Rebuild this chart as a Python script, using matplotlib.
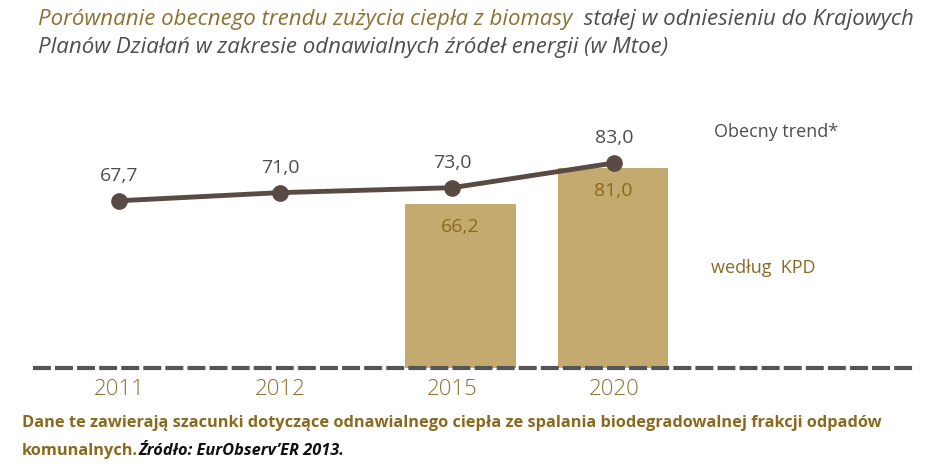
import matplotlib
matplotlib.use("Agg")
import matplotlib.pyplot as plt

# dane
lata = ["2011", "2012", "2015", "2020"]
trend = [67.7, 71.0, 73.0, 83.0]          # Obecny trend*
kpd_lata = ["2015", "2020"]
kpd = [66.2, 81.0]                          # według KPD

tytul_1 = "Porównanie obecnego trendu zużycia ciepła z biomasy "
tytul_2 = " stałej w odniesieniu do Krajowych"
tytul_3 = "Planów Działań w zakresie odnawialnych źródeł energii (w Mtoe)"
stopka_1 = "Dane te zawierają szacunki dotyczące odnawialnego ciepła ze spalania biodegradowalnej frakcji odpadów"
stopka_2 = "komunalnych."
stopka_3 = "Źródło: EurObserv’ER 2013."

zloty = "#8c6f30"
szary = "#4d4d4d"
braz = "#5a4a44"
slupek = "#c5aa6f"

W, H = 940, 472
fig = plt.figure(figsize=(W / 100, H / 100), dpi=100)
fig.patch.set_facecolor("white")

# os: dol na linii bazowej (y=368 px), x od 35 do 910 px
x0, x1, yb, yt = 35, 910, 368, 100
ax = fig.add_axes([x0 / W, (H - yb) / H, (x1 - x0) / W, (yb - yt) / H])
px_x = 165.0
px_y = 2.47
ax.set_xlim(-(119 - x0) / px_x, (x1 - 119) / px_x)
ax.set_ylim(0, (yb - yt) / px_y)
for s in ["top", "right", "left"]:
    ax.spines[s].set_visible(False)
ax.spines["bottom"].set_color("#555555")
ax.spines["bottom"].set_linewidth(3)
ax.spines["bottom"].set_linestyle((0, (3.3, 2.0)))
ax.set_yticks([])
ax.patch.set_alpha(0)

# rozmieszczenie kategorii (lekko nierowne jak w oryginale)
xs = [0.0, 0.975, 2.02, 3.0]
xb = [2.07, 2.995]

ax.bar(xb, kpd, width=0.67, color=slupek, zorder=1)
ax.plot(xs, trend, color=braz, lw=3.5, marker="o", ms=11, zorder=3)

num_font = "Open Sans"
for x, v in zip(xs, trend):
    ax.annotate(f"{v:.1f}".replace(".", ","), (x, v), xytext=(0, 18),
                textcoords="offset points", ha="center", va="center",
                fontsize=14, color=szary, family=num_font)
for x, v in zip(xb, kpd):
    ax.annotate(f"{v:.1f}".replace(".", ","), (x, v), xytext=(0, -16.5),
                textcoords="offset points", ha="center", va="center",
                fontsize=14, color="#8a6a20", family=num_font)

ax.set_xticks(xs)
ax.set_xticklabels(lata, family="Open Sans", weight="light", fontsize=16,
                   color=zloty)
ax.tick_params(axis="x", length=0, pad=8)

ax.text(3.606, 95.5, "Obecny trend*", fontsize=13, color=szary, family=num_font,
        va="center", ha="left")
ax.text(3.588, 40.5, "według  KPD", fontsize=13, color="#8a6a2a", family=num_font,
        va="center", ha="left")

# tytul
fig.canvas.draw()
r = fig.canvas.get_renderer()
tf = dict(fontsize=16, style="italic", family="Open Sans")
t1 = fig.text(38 / W, 1 - 20 / H, tytul_1, color="#8c7133", va="center", **tf)
bb = t1.get_window_extent(r)
fig.text(bb.x1 / W, 1 - 20 / H, tytul_2, color=szary, va="center", **tf)
fig.text(38 / W, 1 - 48 / H, tytul_3, color=szary, va="center", **tf)

# stopka
sf = dict(fontsize=11.8, weight="bold", family="Open Sans", stretch="condensed")
fig.text(22 / W, 1 - 423 / H, stopka_1, color="#8a6a1e", va="center", **sf)
s2 = fig.text(22 / W, 1 - 451 / H, stopka_2, color="#8a6a1e", va="center", **sf)
bb = s2.get_window_extent(r)
fig.text(bb.x1 / W, 1 - 451 / H, stopka_3, color="#111111", va="center",
         style="italic", **sf)

fig.savefig("out.png", dpi=100)
